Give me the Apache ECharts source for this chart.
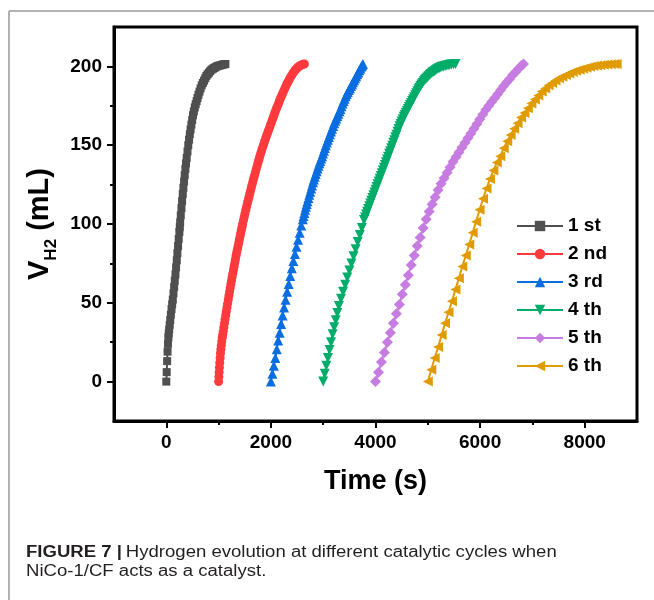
<!DOCTYPE html>
<html>
<head>
<meta charset="utf-8">
<script src="https://cdn.jsdelivr.net/npm/echarts@6/dist/echarts.min.js"></script>
<style>
    html, body { margin: 0; padding: 0; background: #fff; }
    #chart { width: 654px; height: 600px; }
</style>
</head>
<body>
<div id="chart"></div>
<script>
// cycle names
const cycleNames = ['1 st', '2 nd', '3 rd', '4 th', '5 th', '6 th'];

// tick positions
const xTicks = [0, 2000, 4000, 6000, 8000];
const xMinorTicks = [1000, 3000, 5000, 7000];
const yTicks = [0, 50, 100, 150, 200];
const yMinorTicks = [25, 75, 125, 175];

// cycle 1
const t1 = [0, 8, 16, 24, 32, 40, 47, 55, 65, 75, 87, 100, 112, 124, 137, 150, 162, 175, 187, 200,
    212, 225, 237, 250, 258, 265, 277, 290, 302, 315, 327, 340, 352, 365, 377, 390, 405, 420, 435, 450,
    465, 480, 495, 510, 527, 545, 562, 580, 597, 615, 635, 655, 677, 700, 722, 745, 767, 790, 815, 840,
    865, 890, 915, 940, 965, 990, 1015, 1040, 1065, 1090, 1110, 1130];
const v1 = [0, 6, 13, 19, 24, 28, 30.5, 33, 36, 39, 42.5, 46, 49, 52, 56, 60, 64, 68, 72.5, 77,
    81.5, 86, 90.5, 95, 98, 101, 105.5, 110, 114.5, 119, 123, 127, 131, 135, 138.5, 142, 146, 150, 153.5, 157,
    160, 163, 166, 169, 171.5, 174, 176, 178, 180, 182, 184, 186, 188, 189.5, 191, 192.5, 194, 195, 196, 197,
    198, 198.5, 199, 199.5, 200, 200.3, 200.5, 200.8, 201, 201.2, 201.4, 201.5];

// cycle 2
const t2 = [1000, 1005, 1010, 1016, 1022, 1029, 1036, 1044, 1052, 1061, 1070, 1080, 1090, 1101, 1112, 1123,
    1135, 1147, 1160, 1172, 1185, 1197, 1210, 1222, 1235, 1247, 1260, 1272, 1285, 1297, 1310, 1322,
    1335, 1347, 1360, 1372, 1385, 1397, 1410, 1422, 1435, 1447, 1460, 1475, 1490, 1505, 1520, 1535,
    1550, 1565, 1580, 1595, 1610, 1625, 1640, 1656, 1672, 1688, 1705, 1721, 1738, 1755, 1772, 1789,
    1806, 1823, 1840, 1858, 1876, 1894, 1912, 1931, 1950, 1969, 1988, 2007, 2026, 2045, 2064, 2083,
    2102, 2121, 2140, 2160, 2180, 2200, 2220, 2240, 2260, 2280, 2300, 2320, 2340, 2360, 2380, 2400,
    2420, 2440, 2460, 2480, 2500, 2522, 2545, 2567, 2590, 2615, 2640];
const v2 = [0, 3, 6, 9, 12, 15, 18, 20.5, 23, 25.5, 28, 30, 32, 34.5, 37, 39.5,
    42, 44.5, 47, 49.5, 52, 54.5, 57, 59.5, 62, 64.2, 66.5, 68.7, 71, 73.2, 75.5, 77.7,
    80, 82, 84, 86, 88, 90, 92, 94, 96, 98, 100, 102.2, 104.5, 106.7, 109, 111,
    113, 115, 117, 119, 121, 123, 125, 127, 129, 131, 133, 135, 137, 139, 141, 143,
    145, 146.7, 148.5, 150.2, 152, 153.7, 155.5, 157.2, 159, 160.7, 162.5, 164.2, 166, 167.7, 169.5, 171.2,
    173, 174.5, 176, 177.7, 179.5, 181, 182.5, 184, 185.5, 187, 188.5, 189.7, 191, 192.2, 193.5, 194.5,
    195.5, 196.5, 197.5, 198.2, 199, 199.6, 200.2, 200.6, 201, 201.3, 201.5];

// cycle 3
const t3 = [2000, 2028, 2056, 2084, 2112, 2140, 2168, 2196, 2224, 2252, 2280, 2310, 2340, 2370, 2400, 2430,
    2460, 2490, 2520, 2550, 2580, 2610, 2625, 2640, 2655, 2670, 2685, 2700, 2718, 2735, 2752, 2770,
    2787, 2805, 2822, 2840, 2857, 2875, 2892, 2910, 2927, 2945, 2962, 2980, 2997, 3015, 3032, 3050,
    3070, 3090, 3110, 3130, 3150, 3170, 3190, 3210, 3230, 3250, 3270, 3290, 3310, 3330, 3350, 3370,
    3390, 3410, 3430, 3450, 3470, 3490, 3510, 3530, 3550, 3570, 3590, 3610, 3630, 3650, 3670, 3690,
    3710, 3730, 3745, 3760];
const v3 = [0, 5, 10, 15, 20.5, 26, 31, 36.5, 42, 47, 52, 57, 62, 67, 72, 76.5,
    81, 85.5, 90, 94.5, 99, 103, 105, 107, 109, 111, 112.7, 114.5, 116.5, 118.5, 120.5, 122.5,
    124.5, 126.5, 128.2, 130, 131.7, 133.5, 135.2, 137, 138.5, 140, 141.5, 143, 144.7, 146.5, 148.2, 150,
    151.7, 153.5, 155.2, 157, 158.7, 160.5, 162.2, 164, 165.5, 167, 168.5, 170, 171.5, 173, 174.7, 176.5,
    178, 179.5, 181, 182.5, 183.7, 185, 186.2, 187.5, 188.7, 190, 191.2, 192.5, 193.7, 195, 196.2, 197.5,
    198.7, 200, 200.7, 201.5];

// cycle 4
const t4 = [3000, 3030, 3060, 3090, 3120, 3150, 3180, 3210, 3240, 3270, 3300, 3340, 3380, 3420, 3460, 3500,
    3540, 3580, 3620, 3660, 3700, 3740, 3780, 3800, 3820, 3840, 3860, 3880, 3900, 3920, 3940, 3960,
    3980, 4000, 4020, 4040, 4060, 4080, 4100, 4120, 4140, 4160, 4180, 4200, 4220, 4240, 4260, 4280,
    4300, 4320, 4340, 4360, 4380, 4400, 4420, 4440, 4460, 4480, 4500, 4520, 4540, 4560, 4580, 4600,
    4620, 4640, 4660, 4680, 4700, 4720, 4740, 4760, 4780, 4800, 4820, 4840, 4860, 4880, 4900, 4922,
    4945, 4967, 4990, 5012, 5035, 5057, 5080, 5102, 5125, 5147, 5170, 5195, 5220, 5245, 5270, 5300,
    5330, 5360, 5390, 5420, 5450, 5490, 5530];
const v4 = [0, 5, 10, 15, 20, 25, 30, 34.5, 39, 43.5, 48, 52.5, 57, 61.5, 66, 70.5,
    75, 79.5, 84, 88.5, 93, 97.5, 102.5, 104.2, 106, 107.7, 109.5, 111.2, 113, 114.7, 116.5, 118.2,
    120, 121.7, 123.5, 125.2, 127, 128.7, 130.5, 132.2, 134, 135.7, 137.5, 139.2, 141, 142.7, 144.5, 146.2,
    148, 149.7, 151.5, 153.2, 155, 156.7, 158.5, 160.2, 162, 163.5, 165, 166.5, 168, 169.2, 170.5, 171.7,
    173, 174.2, 175.5, 176.7, 178, 179.2, 180.5, 181.7, 183, 184.2, 185.5, 186.5, 187.5, 188.5, 189.5, 190.5,
    191.5, 192.2, 193, 193.7, 194.5, 195.2, 196, 196.5, 197, 197.5, 198, 198.5, 199, 199.4, 199.7, 200,
    200.3, 200.6, 200.8, 201, 201.2, 201.4, 201.5];

// cycle 5
const t5 = [4000, 4057, 4114, 4171, 4228, 4285, 4342, 4399, 4456, 4513, 4570, 4627, 4684, 4741, 4798, 4855,
    4912, 4969, 5026, 5083, 5140, 5197, 5254, 5311, 5368, 5425, 5482, 5539, 5596, 5653, 5710, 5767, 5824,
    5881, 5938, 5995, 6052, 6109, 6166, 6223, 6280, 6337, 6394, 6451, 6508, 6565, 6622, 6679, 6736, 6793, 6830];
const v5 = [0, 6, 12.5, 18.5, 25, 31, 37, 43, 49, 55.5, 61.5, 67.5, 74, 80, 86, 91.5,
    97.5, 103, 108, 112.5, 117, 121.5, 125.5, 129, 132.5, 136, 139.5, 142.5, 145.5, 148.5, 151.5, 154.5, 157.5,
    160.5, 163.5, 166.5, 169.5, 172.5, 175, 177.5, 180, 182.5, 185, 187.5, 190, 192, 194.5, 196.5, 198.5, 200.5, 201.5];

// cycle 6
const t6 = [5000, 5066, 5132, 5198, 5264, 5330, 5396, 5462, 5528, 5594, 5660, 5726, 5792, 5858, 5924, 5990,
    6056, 6122, 6188, 6254, 6320, 6386, 6452, 6518, 6584, 6650, 6716, 6782, 6848, 6914, 6980, 7046, 7112,
    7178, 7244, 7310, 7376, 7442, 7508, 7574, 7640, 7706, 7772, 7838, 7904, 7970, 8036, 8102, 8168, 8234,
    8300, 8366, 8432, 8498, 8564, 8610];
const v6 = [0, 7.5, 15, 22, 29.5, 37, 44, 51, 58.5, 65.5, 73, 80, 87, 94.5, 101.5, 109,
    116, 122.5, 128.5, 134, 139, 143, 148, 152.5, 156.5, 160.5, 164, 167.5, 170.5, 173.5, 176.5, 179, 181.5,
    184, 186, 188, 189.5, 191, 192.5, 193.5, 194.5, 195.5, 196.5, 197.2, 197.8, 198.5, 199.2, 199.7, 200.2, 200.5,
    200.8, 201, 201.2, 201.4, 201.5, 201.5];

const times = [t1, t2, t3, t4, t5, t6];
const volumes = [v1, v2, v3, v4, v5, v6];

const colors = ['#4f4f4f', '#ff3a3d', '#0a6de0', '#00ac69', '#c77ce2', '#e09b00'];
const symbols = ['rect', 'circle', 'triangle', 'triangle', 'diamond', 'triangle'];
const symbolRotates = [0, 0, 0, 180, 0, 90];
const symbolSizes = [8, 9, 10, 10, 11, 10];

const FONT = 'Liberation Sans, Arial, sans-serif';

const chart = echarts.init(document.getElementById('chart'), null, { renderer: 'canvas' });

const series = cycleNames.map((name, k) => ({
    name: name,
    type: 'line',
    data: times[k].map((t, i) => [t, volumes[k][i]]),
    symbol: symbols[k],
    symbolRotate: symbolRotates[k],
    symbolSize: symbolSizes[k],
    showAllSymbol: true,
    lineStyle: { color: colors[k], width: 2 },
    itemStyle: { color: colors[k] },
    emphasis: { disabled: true },
    z: 3
}));

const option = {
    animation: false,
    textStyle: { fontFamily: FONT },
    grid: {
        left: 114, right: 17, top: 27, bottom: 179,
        show: true, borderColor: '#000', borderWidth: 3
    },
    legend: {
        orient: 'vertical',
        left: 511,
        top: 211,
        itemWidth: 46,
        itemHeight: 13,
        itemGap: 8,
        data: cycleNames,
        textStyle: { fontSize: 19, fontWeight: 'bold', color: '#000', fontFamily: FONT, lineHeight: 20 }
    },
    xAxis: [
        {
            type: 'value',
            min: -1000, max: 9000,
            position: 'bottom',
            name: 'Time (s)',
            nameLocation: 'middle',
            nameGap: 47,
            nameTextStyle: { fontSize: 27, fontWeight: 'bold', color: '#000', fontFamily: FONT },
            axisLine: { show: true, onZero: false, lineStyle: { color: '#000', width: 3 } },
            axisTick: { show: true, customValues: xTicks, length: 7, lineStyle: { color: '#000', width: 2 } },
            axisLabel: {
                customValues: xTicks, margin: 12, fontSize: 19, fontWeight: 'bold', color: '#000', fontFamily: FONT,
                formatter: (v) => String(v)
            },
            splitLine: { show: false }
        },
        {
            type: 'value',
            min: -1000, max: 9000,
            position: 'bottom',
            offset: 0,
            axisLine: { show: false, onZero: false },
            axisTick: { show: true, customValues: xMinorTicks, length: 4, lineStyle: { color: '#000', width: 2 } },
            axisLabel: { show: false },
            splitLine: { show: false }
        }
    ],
    yAxis: [
        {
            type: 'value',
            min: -25, max: 225,
            position: 'left',
            name: '{v|V}{s|H2}{n| (mL)}',
            nameLocation: 'middle',
            nameRotate: 90,
            nameGap: 54,
            nameMoveOverlap: false,
            nameTextStyle: {
                color: '#000',
                rich: {
                    v: { fontSize: 29, fontWeight: 'bold', color: '#000', fontFamily: FONT, verticalAlign: 'bottom', padding: [0, 0, 6, 0] },
                    s: { fontSize: 17, fontWeight: 'bold', color: '#000', fontFamily: FONT, verticalAlign: 'bottom' },
                    n: { fontSize: 29, fontWeight: 'bold', color: '#000', fontFamily: FONT, verticalAlign: 'bottom', padding: [0, 0, 6, 0] }
                }
            },
            axisLine: { show: true, onZero: false, lineStyle: { color: '#000', width: 3 } },
            axisTick: { show: true, customValues: yTicks, length: 7, lineStyle: { color: '#000', width: 2 } },
            axisLabel: { customValues: yTicks, margin: 12, fontSize: 19, fontWeight: 'bold', color: '#000', fontFamily: FONT },
            splitLine: { show: false }
        },
        {
            type: 'value',
            min: -25, max: 225,
            position: 'left',
            offset: 0,
            axisLine: { show: false, onZero: false },
            axisTick: { show: true, customValues: yMinorTicks, length: 4, lineStyle: { color: '#000', width: 2 } },
            axisLabel: { show: false },
            splitLine: { show: false }
        }
    ],
    graphic: [
        // page frame lines
        { type: 'line', shape: { x1: 9, y1: 11, x2: 654, y2: 11 }, style: { stroke: '#999', lineWidth: 1.5 } },
        { type: 'line', shape: { x1: 9, y1: 11, x2: 9, y2: 600 }, style: { stroke: '#999', lineWidth: 1.5 } },
        // caption
        {
            type: 'text', x: 26, y: 545, scaleX: 1.16,
            style: {
                text: '{b|FIGURE 7 |} {n|Hydrogen evolution at different catalytic cycles when}',
                rich: {
                    b: { fontSize: 16, fontWeight: 'bold', fill: '#231f20', fontFamily: FONT },
                    n: { fontSize: 16, fill: '#231f20', fontFamily: FONT }
                }
            }
        },
        {
            type: 'text', x: 26, y: 564, scaleX: 1.16,
            style: { text: 'NiCo-1/CF acts as a catalyst.', fontSize: 16, fill: '#231f20', fontFamily: FONT }
        }
    ],
    series: series
};

chart.setOption(option);
</script>
</body>
</html>
